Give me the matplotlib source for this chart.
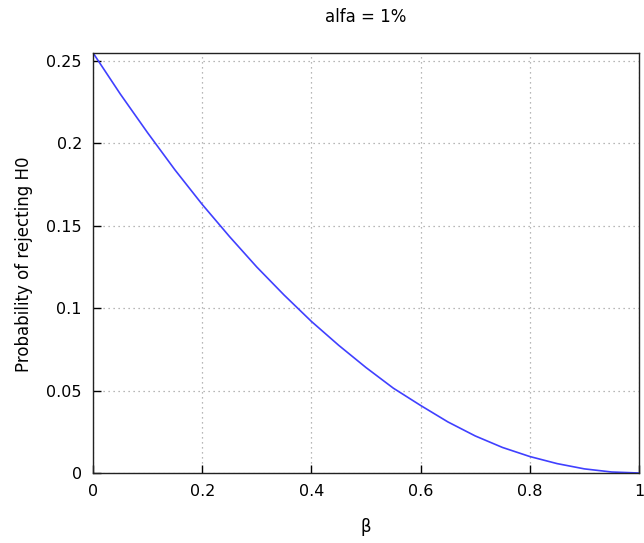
import matplotlib
matplotlib.use("Agg")
import matplotlib.pyplot as plt

beta = [0.00, 0.05, 0.10, 0.15, 0.20, 0.25, 0.30, 0.35, 0.40, 0.45, 0.50,
        0.55, 0.60, 0.65, 0.70, 0.75, 0.80, 0.85, 0.90, 0.95, 1.00]
prob = [0.255, 0.230, 0.2065, 0.184, 0.163, 0.1435, 0.125, 0.108, 0.092, 0.0775, 0.064,
        0.0515, 0.041, 0.031, 0.0225, 0.0155, 0.010, 0.0057, 0.0025, 0.0006, 0.0]
xticks = [0, 0.2, 0.4, 0.6, 0.8, 1]
xticklabels = ["0", "0.2", "0.4", "0.6", "0.8", "1"]
yticks = [0, 0.05, 0.1, 0.15, 0.2, 0.25]
yticklabels = ["0", "0.05", "0.1", "0.15", "0.2", "0.25"]

plt.rcParams['font.family'] = ['DejaVu Sans']
fig = plt.figure(figsize=(6.44, 5.43), dpi=100)
ax = fig.add_axes([93/644, 1-473/543, (639-93)/644, (473-53)/543])
ax.plot(beta, prob, color='#4040ff', lw=1.2)
ax.set_xlim(0, 1)
ax.set_ylim(0, 0.2549)
ax.set_xticks(xticks)
ax.set_xticklabels(xticklabels)
ax.set_yticks(yticks)
ax.set_yticklabels(yticklabels)
ax.tick_params(direction='in', length=6, width=1, labelsize=11.5, pad=8, colors='black')
ax.tick_params(axis='x', pad=8)
ax.grid(True, color='#a0a0a0', linestyle=(0, (1, 3)), linewidth=0.9)
for s in ax.spines.values():
    s.set_linewidth(1.0)
    s.set_color('#222222')
fig.text(366/644, 1-17/543, "alfa = 1%", ha='center', va='center', fontsize=12)
fig.text(366/644, 1-527/543, "β", ha='center', va='center', fontsize=12)
fig.text(24/644, 1-264/543, "Probability of rejecting H0", ha='center', va='center',
         rotation=90, fontsize=12)
fig.savefig("out.png", dpi=100)
